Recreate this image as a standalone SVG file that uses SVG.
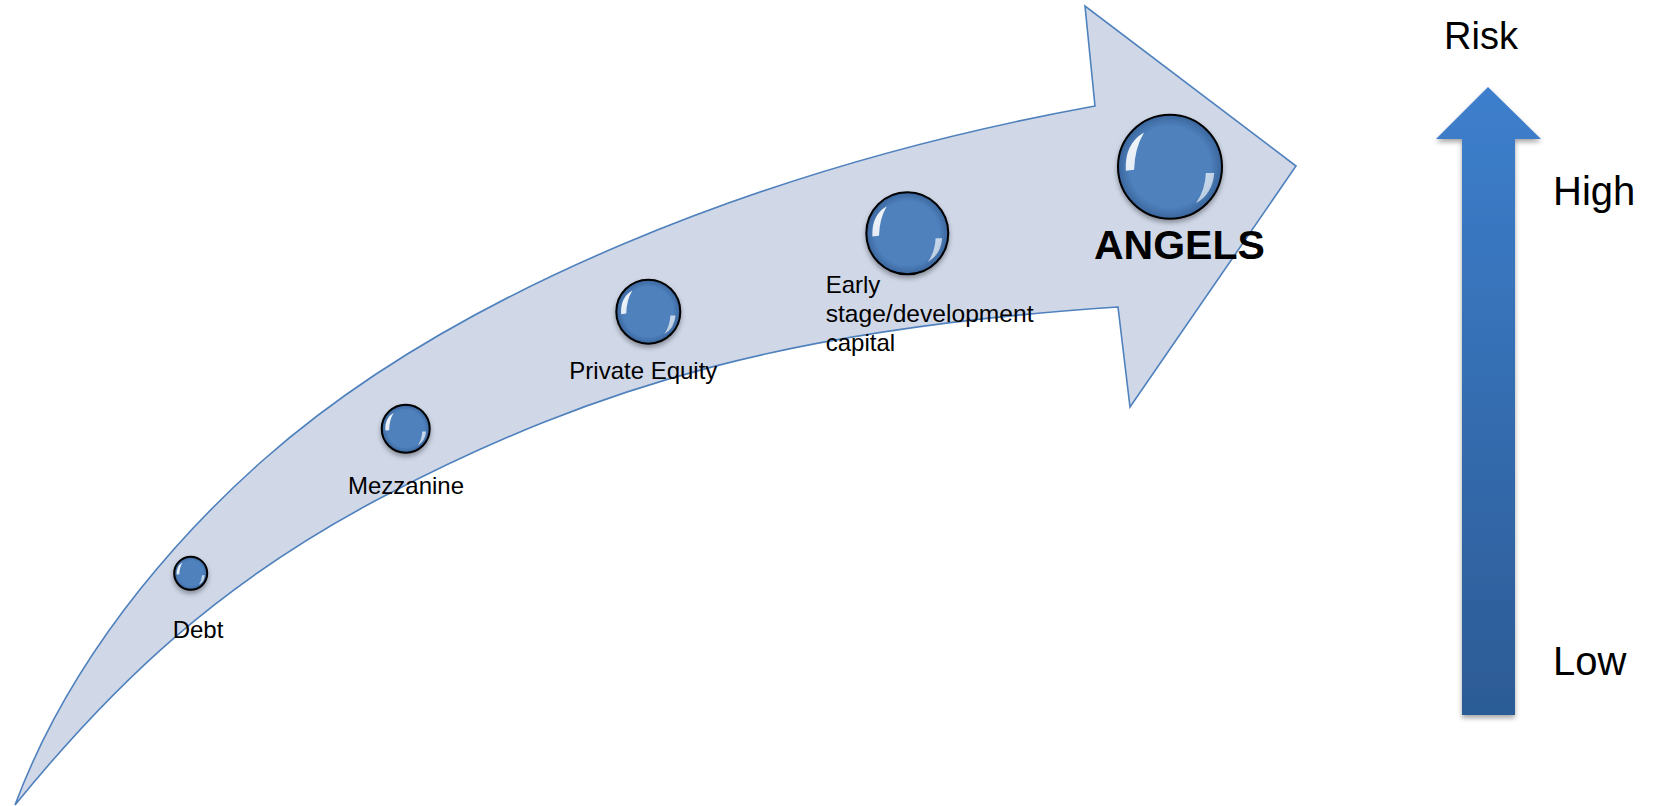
<svg xmlns="http://www.w3.org/2000/svg" xmlns:xlink="http://www.w3.org/1999/xlink" width="1653" height="806" viewBox="0 0 1653 806">
  <style>
    .lbl { font-family: "Liberation Sans", Arial, sans-serif; font-size: 24px; fill: #000; }
    .big { font-family: "Liberation Sans", Arial, sans-serif; font-size: 40px; fill: #000; }
    .angels { font-family: "Liberation Sans", Arial, sans-serif; font-size: 41px; font-weight: bold; fill: #000; }
    .bub { fill: url(#bubGrad); stroke: #000; stroke-width: 2; filter: url(#shadow); }
    .hl { fill: url(#hlGrad); }
    .band { fill: #d0d8e8; stroke: #4f81bd; stroke-width: 1.6; stroke-linejoin: miter; }
  </style>
  <defs>
    <radialGradient id="bubGrad" cx="0.5" cy="0.5" r="0.5">
      <stop offset="0" stop-color="#4f81bd"/>
      <stop offset="0.78" stop-color="#4f81bd"/>
      <stop offset="1" stop-color="#3a659c"/>
    </radialGradient>
    <linearGradient id="hlGrad" x1="0" y1="0" x2="1" y2="1">
      <stop offset="0" stop-color="#ffffff" stop-opacity="0.95"/>
      <stop offset="1" stop-color="#ffffff" stop-opacity="0.6"/>
    </linearGradient>
    <linearGradient id="riskGrad" x1="0" y1="0" x2="0" y2="1">
      <stop offset="0" stop-color="#3d7fcd"/>
      <stop offset="1" stop-color="#2c5b95"/>
    </linearGradient>
    <filter id="shadow" x="-30%" y="-30%" width="160%" height="170%">
      <feDropShadow dx="0" dy="3" stdDeviation="2.5" flood-color="#000" flood-opacity="0.35"/>
    </filter>
    <path id="hl" d="M -0.85 0.08 Q -0.88 -0.44 -0.5 -0.66 Q -0.68 -0.36 -0.69 0.06 Z M 0.85 0.12 Q 0.82 0.52 0.5 0.7 Q 0.68 0.44 0.69 0.12 Z"/>
  </defs>

  <rect width="1653" height="806" fill="#ffffff"/>

  <g id="connectors">
    <path id="growth-arrow" class="band" d="M 15 805
      C 78 636.3 203.4 513 263.3 460
      C 450.6 294.5 760.4 166.9 1095 106
      L 1085 6 L 1296 166 L 1130 407 L 1118 307
      C 798.6 328.1 601.25 381.8 380 498.3
      C 220.7 582.2 116 680.8 15 805 Z"/>
    <polygon id="risk-arrow" points="1488,87 1541,139 1515,139 1515,715 1462,715 1462,139 1436,139" fill="url(#riskGrad)" filter="url(#shadow)"/>
  </g>

  <g id="node-debt">
    <circle class="bub" cx="190.7" cy="573.3" r="16.5"/>
    <use xlink:href="#hl" class="hl" transform="translate(190.7 573.3) scale(16.5)"/>
    <text class="lbl" x="172.7" y="638">Debt</text>
  </g>

  <g id="node-mezzanine">
    <circle class="bub" cx="405.7" cy="428.7" r="24"/>
    <use xlink:href="#hl" class="hl" transform="translate(405.7 428.7) scale(24)"/>
    <text class="lbl" x="348" y="493.5">Mezzanine</text>
  </g>

  <g id="node-private-equity">
    <circle class="bub" cx="648.3" cy="311.7" r="32"/>
    <use xlink:href="#hl" class="hl" transform="translate(648.3 311.7) scale(32)"/>
    <text class="lbl" x="569.3" y="379">Private Equity</text>
  </g>

  <g id="node-early-stage">
    <circle class="bub" cx="907.3" cy="233.3" r="41"/>
    <use xlink:href="#hl" class="hl" transform="translate(907.3 233.3) scale(41)"/>
    <text class="lbl" x="825.7" y="292.5">Early</text>
    <text class="lbl" x="825.7" y="321.5" style="font-size:24.6px">stage/development</text>
    <text class="lbl" x="825.7" y="350.5">capital</text>
  </g>

  <g id="node-angels">
    <circle class="bub" cx="1170" cy="166.7" r="52"/>
    <use xlink:href="#hl" class="hl" transform="translate(1170 166.7) scale(52)"/>
    <text class="angels" x="1094" y="258.5">ANGELS</text>
  </g>

  <g id="risk-scale">
    <text class="big" x="1444" y="48.5" style="font-size:38px">Risk</text>
    <text class="big" x="1553" y="204.5">High</text>
    <text class="big" x="1553" y="675">Low</text>
  </g>
</svg>
